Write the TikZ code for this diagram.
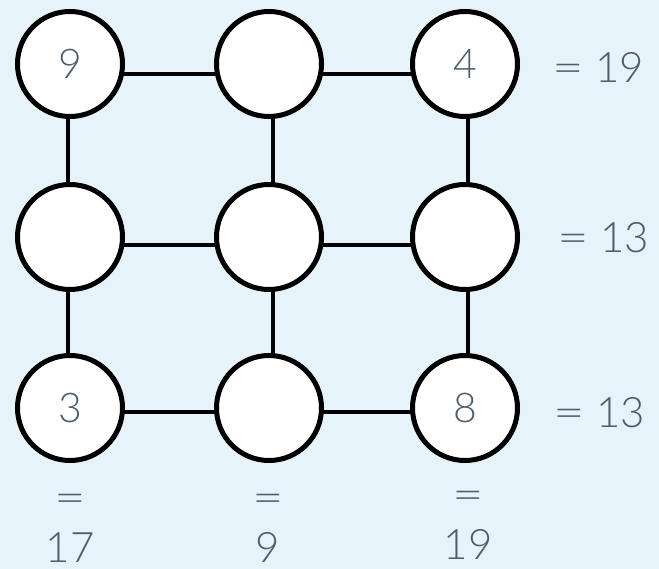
\documentclass[tikz,border=0pt]{standalone}
\usepackage{fontspec}
\setmainfont{Lato}[UprightFont=* Light]
\usetikzlibrary{backgrounds}
\definecolor{bg}{HTML}{E7F3FB}
\definecolor{txt}{HTML}{4E5D68}
\newcommand{\eqs}{\scalebox{1.3}[1]{=}}
\begin{document}
\begin{tikzpicture}[x=1pt,y=-1pt,
  cell/.style={circle,draw=black,line width=5pt,fill=white,minimum size=105pt,inner sep=0pt,text=txt,font=\fontsize{41}{41}\selectfont},
  lbl/.style={text=txt,font=\fontsize{42}{42}\selectfont,inner sep=0pt},
  conn/.style={line width=3.2pt,black}]
\useasboundingbox (0,0) rectangle (659,569);
\node[cell] (a1) at (70,64) {9};
\node[cell] (a2) at (269,64) {};
\node[cell] (a3) at (465,64) {4};
\node[cell] (b1) at (70,237) {};
\node[cell] (b2) at (269,237) {};
\node[cell] (b3) at (465,237) {};
\node[cell] (c1) at (70,408) {3};
\node[cell] (c2) at (269,408) {};
\node[cell] (c3) at (465,408) {8};
\begin{scope}[on background layer]
\fill[bg] (0,0) rectangle (659,569);
\draw[conn] ([yshift=-10pt]a1.center) -- ([yshift=-10pt]a2.center) -- ([yshift=-10pt]a3.center);
\draw[conn] ([yshift=-8pt]b1.center) -- ([yshift=-8pt]b2.center) -- ([yshift=-8pt]b3.center);
\draw[conn] ([yshift=-4pt]c1.center) -- ([yshift=-4pt]c2.center) -- ([yshift=-4pt]c3.center);
\draw[conn] ([xshift=-2pt]a1.center) -- ([xshift=-2pt]b1.center) -- ([xshift=-2pt]c1.center);
\draw[conn] ([xshift=4pt]a2.center) -- ([xshift=4pt]b2.center) -- ([xshift=4pt]c2.center);
\draw[conn] ([xshift=3pt]a3.center) -- ([xshift=3pt]b3.center) -- ([xshift=3pt]c3.center);
\end{scope}
\node[lbl] (r1) at (598,67) {\eqs\ 19};
\node[lbl] (r2) at (603,238) {\eqs\ 13};
\node[lbl] (r3) at (599,413) {\eqs\ 13};
\node[lbl] (e1) at (70,503) {\eqs};
\node[lbl] (e2) at (268,503) {\eqs};
\node[lbl] (e3) at (468,500) {\eqs};
\node[lbl,anchor=base] (s1) at (70,562) {17};
\node[lbl,anchor=base] (s2) at (268,562) {9};
\node[lbl,anchor=base] (s3) at (468,559) {19};
\end{tikzpicture}
\end{document}
